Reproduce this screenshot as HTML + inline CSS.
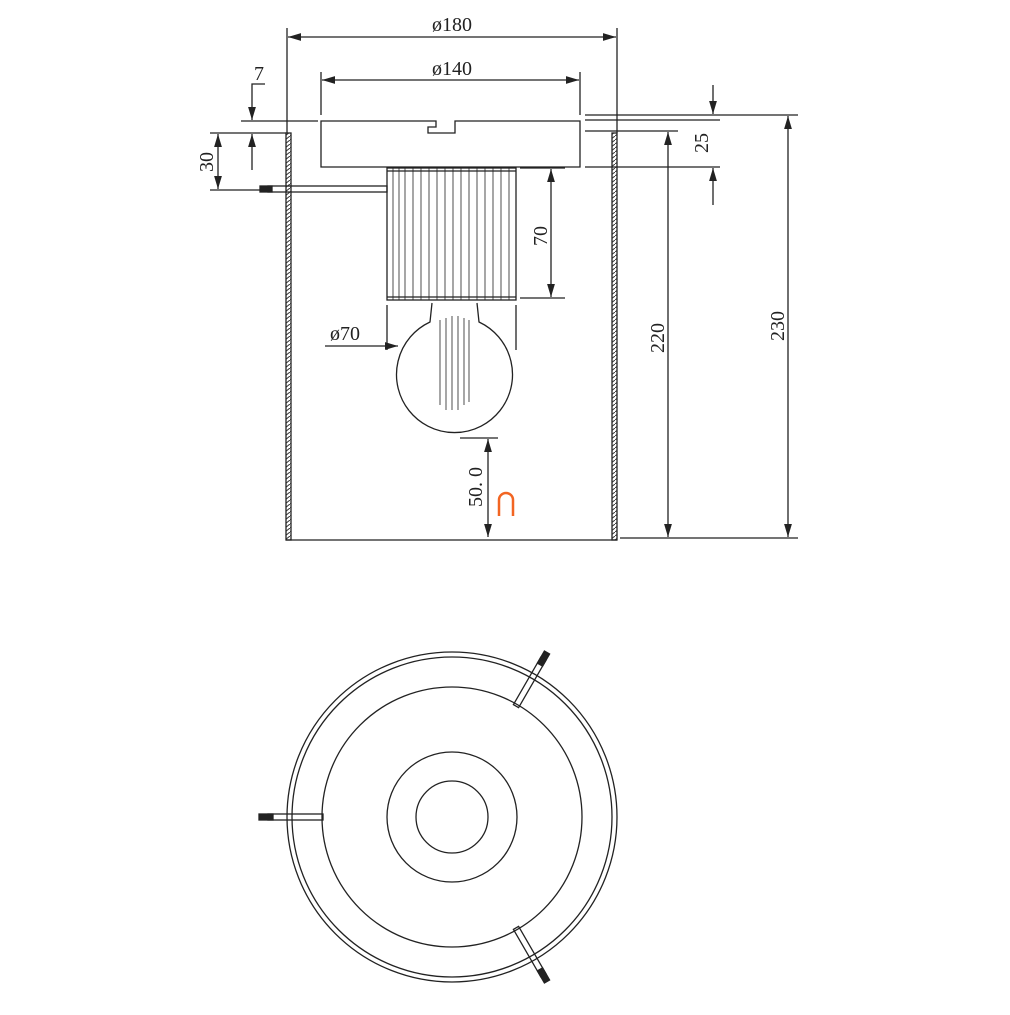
<!DOCTYPE html>
<html><head><style>body{margin:0;background:#fff}</style></head><body>
<svg width="1010" height="1010" viewBox="0 0 1010 1010" xmlns="http://www.w3.org/2000/svg" font-family="Liberation Serif, serif" fill="none" stroke="#222" stroke-width="1.3">
<defs>
<marker id="a" viewBox="0 0 10 6" refX="10" refY="3" markerWidth="10" markerHeight="6" orient="auto-start-reverse"><path d="M0,0 L10,3 L0,6z" fill="#222" stroke="none"/></marker>
<pattern id="h" width="5" height="4" patternUnits="userSpaceOnUse"><path d="M0,4 L5,0" stroke="#333" stroke-width="1"/></pattern>
</defs>
<rect x="286" y="133" width="5" height="407" fill="url(#h)"/>
<rect x="612" y="133" width="5" height="407" fill="url(#h)"/>
<line x1="286" y1="540" x2="617" y2="540"/>
<path d="M321,121 H436 V127 H428 V133 H455 V121 H580 V167 H321 Z"/>
<rect x="387" y="168" width="129" height="132"/>
<g stroke-width="0.8">
<line x1="393" y1="168" x2="393" y2="300"/><line x1="399" y1="168" x2="399" y2="300"/><line x1="405" y1="168" x2="405" y2="300"/><line x1="413" y1="168" x2="413" y2="300"/><line x1="421" y1="168" x2="421" y2="300"/><line x1="429" y1="168" x2="429" y2="300"/><line x1="437" y1="168" x2="437" y2="300"/><line x1="445" y1="168" x2="445" y2="300"/><line x1="453" y1="168" x2="453" y2="300"/><line x1="461" y1="168" x2="461" y2="300"/><line x1="469" y1="168" x2="469" y2="300"/><line x1="477" y1="168" x2="477" y2="300"/><line x1="485" y1="168" x2="485" y2="300"/><line x1="493" y1="168" x2="493" y2="300"/><line x1="501" y1="168" x2="501" y2="300"/><line x1="509" y1="168" x2="509" y2="300"/>
</g>
<line x1="387" y1="171" x2="516" y2="171"/><line x1="387" y1="297" x2="516" y2="297"/>
<rect x="268" y="186" width="119" height="6"/>
<rect x="260" y="186" width="12" height="6" fill="#222"/>
<path d="M432,303 L430,322 A58,58 0 1 0 479,322 L477,303" />
<g stroke-width="0.8"><line x1="440" y1="320" x2="440" y2="405"/><line x1="446" y1="318" x2="446" y2="410"/><line x1="452" y1="316" x2="452" y2="410"/><line x1="458" y1="316" x2="458" y2="410"/><line x1="464" y1="318" x2="464" y2="405"/><line x1="469" y1="320" x2="469" y2="402"/></g>
<line x1="287" y1="28" x2="287" y2="133"/><line x1="617" y1="28" x2="617" y2="133"/>
<line x1="288" y1="37" x2="616" y2="37" marker-start="url(#a)" marker-end="url(#a)"/>
<line x1="321" y1="72" x2="321" y2="115"/><line x1="580" y1="72" x2="580" y2="115"/>
<line x1="322" y1="80" x2="579" y2="80" marker-start="url(#a)" marker-end="url(#a)"/>
<line x1="241" y1="121" x2="318" y2="121"/><line x1="210" y1="133" x2="286" y2="133"/><line x1="210" y1="190" x2="262" y2="190"/>
<path d="M265,84 H252 V120" marker-end="url(#a)"/>
<line x1="252" y1="170" x2="252" y2="134" marker-end="url(#a)"/>
<line x1="218" y1="134" x2="218" y2="189" marker-start="url(#a)" marker-end="url(#a)"/>
<line x1="585" y1="115" x2="798" y2="115"/><line x1="585" y1="120" x2="720" y2="120"/>
<line x1="585" y1="131" x2="678" y2="131"/><line x1="520" y1="168" x2="565" y2="168"/><line x1="585" y1="167" x2="720" y2="167"/>
<line x1="520" y1="298" x2="565" y2="298"/>
<line x1="620" y1="538" x2="798" y2="538"/>
<line x1="713" y1="85" x2="713" y2="114" marker-end="url(#a)"/>
<line x1="713" y1="205" x2="713" y2="168" marker-end="url(#a)"/>
<line x1="668" y1="132" x2="668" y2="537" marker-start="url(#a)" marker-end="url(#a)"/>
<line x1="788" y1="116" x2="788" y2="537" marker-start="url(#a)" marker-end="url(#a)"/>
<line x1="551" y1="169" x2="551" y2="297" marker-start="url(#a)" marker-end="url(#a)"/>
<line x1="325" y1="346" x2="398" y2="346" marker-end="url(#a)"/>
<line x1="516" y1="305" x2="516" y2="350"/><line x1="387" y1="305" x2="387" y2="350"/>
<line x1="460" y1="438" x2="498" y2="438"/>
<line x1="488" y1="439" x2="488" y2="537" marker-start="url(#a)" marker-end="url(#a)"/>
<g fill="#222" stroke="none" font-size="20">
<text x="452" y="31" text-anchor="middle">ø180</text>
<text x="452" y="75" text-anchor="middle">ø140</text>
<text x="254" y="80">7</text>
<text x="345" y="340" text-anchor="middle">ø70</text>
<text transform="translate(213,162) rotate(-90)" text-anchor="middle">30</text>
<text transform="translate(708,143) rotate(-90)" text-anchor="middle">25</text>
<text transform="translate(547,236) rotate(-90)" text-anchor="middle">70</text>
<text transform="translate(664,338) rotate(-90)" text-anchor="middle">220</text>
<text transform="translate(784,326) rotate(-90)" text-anchor="middle">230</text>
<text transform="translate(482,487) rotate(-90)" text-anchor="middle">50. 0</text>
</g>
<path d="M499,516 V500 A7,7 0 0 1 513,500 V516" stroke="#f26522" stroke-width="2.5"/>
<circle cx="452" cy="817" r="165"/>
<circle cx="452" cy="817" r="160"/>
<circle cx="452" cy="817" r="130"/>
<circle cx="452" cy="817" r="65"/>
<circle cx="452" cy="817" r="36"/>
<rect x="268" y="814" width="55" height="6"/>
<rect x="259" y="814" width="14" height="6" fill="#222"/>
<g transform="translate(452,817) rotate(-60)"><rect x="128" y="-3" width="55" height="6"/><rect x="176" y="-3" width="14" height="6" fill="#222"/></g>
<g transform="translate(452,817) rotate(60)"><rect x="128" y="-3" width="55" height="6"/><rect x="176" y="-3" width="14" height="6" fill="#222"/></g>
</svg>
</body></html>
